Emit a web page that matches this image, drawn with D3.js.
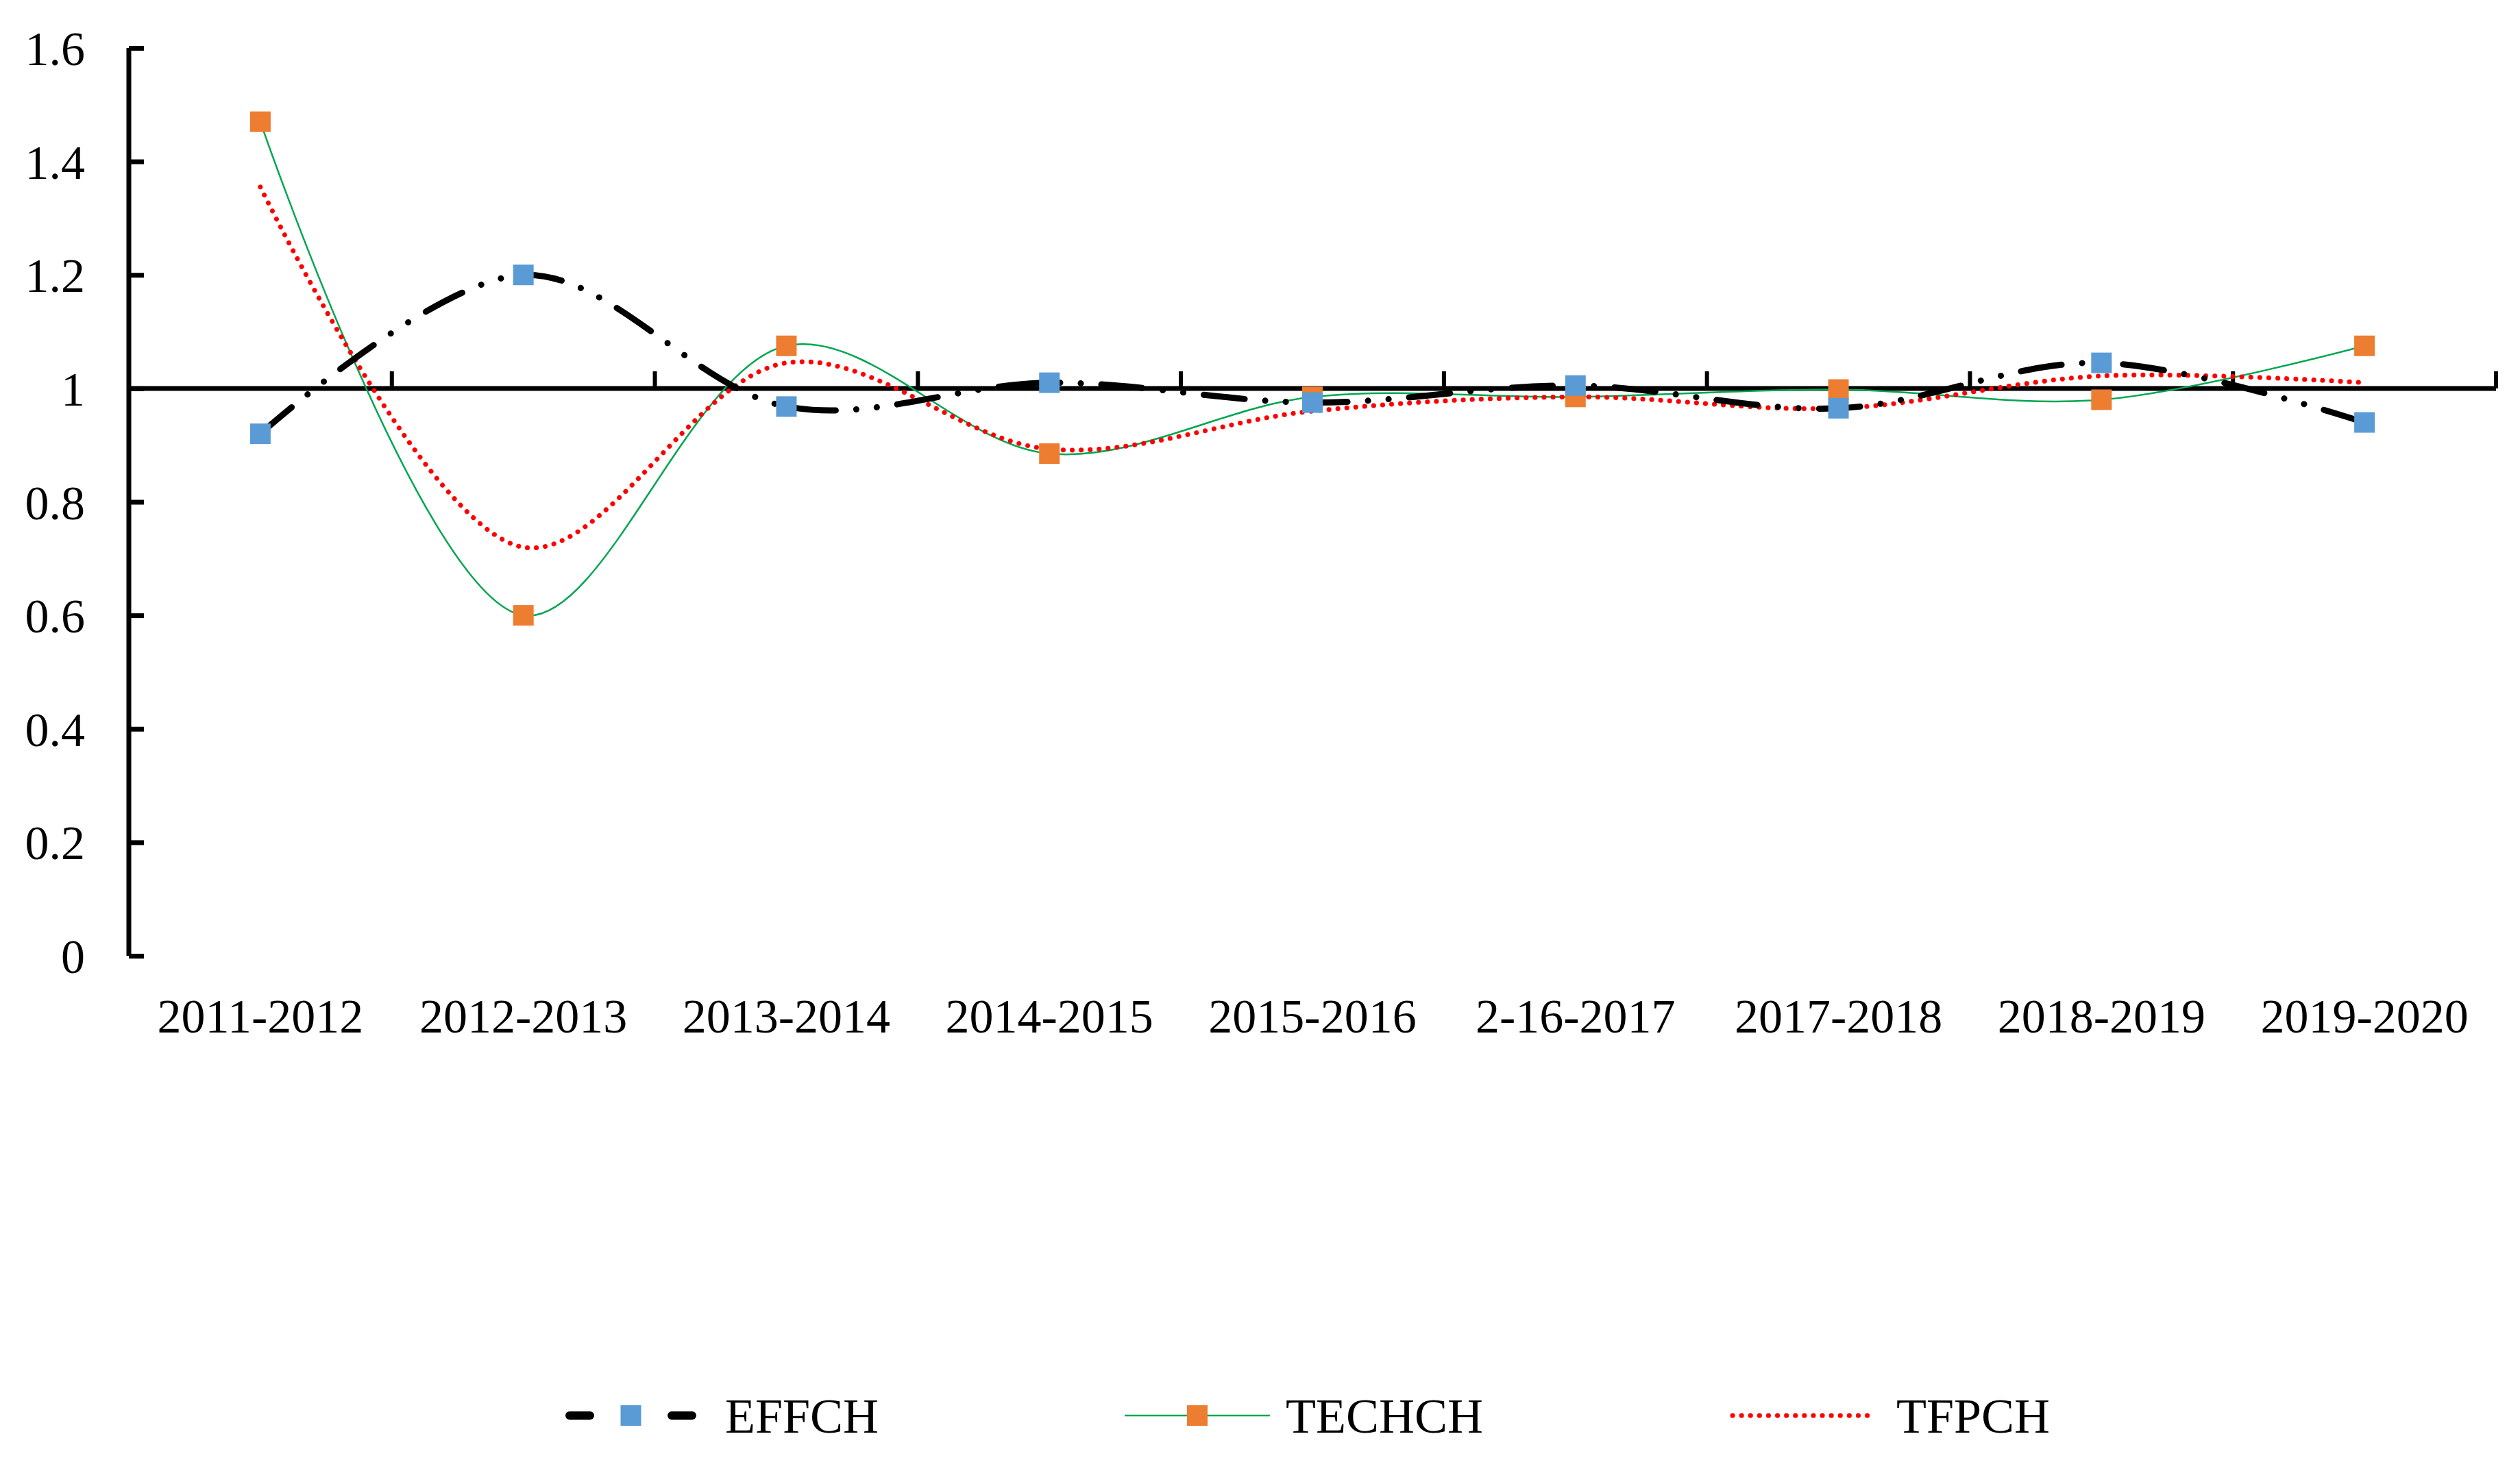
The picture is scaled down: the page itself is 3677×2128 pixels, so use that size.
<!DOCTYPE html><html><head><meta charset="utf-8"><script src="https://cdn.jsdelivr.net/npm/d3@7"></script>
<style>body{margin:0;background:#fff}text{font-family:"Liberation Serif","Times New Roman",serif}</style></head><body>
<script>
const categories=["2011-2012","2012-2013","2013-2014","2014-2015","2015-2016","2-16-2017","2017-2018","2018-2019","2019-2020"];
const effch=[0.92,1.2,0.968,1.01,0.975,1.005,0.965,1.045,0.94];
const techch=[1.47,0.60,1.075,0.885,0.985,0.985,0.998,0.98,1.075];
const tfpch=[1.355,0.72,1.045,0.893,0.96,0.985,0.965,1.022,1.01];
const yTicks=[0,0.2,0.4,0.6,0.8,1,1.2,1.4,1.6];
const W=3677,H=2128;
const svg=d3.select("body").append("svg").attr("width",W).attr("height",H);
const x=d3.scaleBand().domain(categories).range([188,3642]);
const y=d3.scaleLinear().domain([0,1.6]).range([1395,70]);
const cx=c=>x(c)+x.bandwidth()/2;
const ya=svg.append("g").attr("transform","translate(188,0)").call(d3.axisLeft(y).tickValues(yTicks).tickSize(-22).tickPadding(0).tickFormat(d3.format("")));
ya.select(".domain").attr("stroke-width",7).attr("d",`M0,${y(0)}V${y(1.6)}`);
ya.selectAll(".tick line").attr("stroke-width",7);
ya.selectAll(".tick text").attr("x",-64).attr("font-size",70).attr("fill","#000").attr("dy","0.35em");
const xa=svg.append("g").attr("transform",`translate(0,${y(1)})`);
xa.append("line").attr("x1",188).attr("x2",3642).attr("stroke","#000").attr("stroke-width",7);
const bounds=categories.map(c=>x(c)+x.bandwidth());
xa.selectAll("line.t").data(bounds).join("line").attr("class","t").attr("x1",d=>d).attr("x2",d=>d).attr("y1",0).attr("y2",-25).attr("stroke","#000").attr("stroke-width",6);
svg.selectAll("text.cat").data(categories).join("text").attr("class","cat").attr("x",cx).attr("y",1482).attr("dy","0.35em").attr("text-anchor","middle").attr("font-size",70).text(d=>d);
const line=d3.line().x((d,i)=>cx(categories[i])).y(d=>y(d)).curve(d3.curveCatmullRom.alpha(0.5));
const series=[
 {name:"TECHCH",v:techch,stroke:"#00a650",w:2.5,dash:null,cap:"butt",m:"#ed7d31"},
 {name:"TFPCH",v:tfpch,stroke:"#ff0000",w:7,dash:"0.1,13",cap:"round",m:null},
 {name:"EFFCH",v:effch,stroke:"#000",w:9,dash:"60,30,0.1,30,0.1,30",cap:"round",m:"#5b9bd5"}];
series.forEach(s=>{
 svg.append("path").attr("d",line(s.v)).attr("fill","none").attr("stroke",s.stroke).attr("stroke-width",s.w).attr("stroke-dasharray",s.dash).attr("stroke-linecap",s.cap);
});
series.forEach(s=>{ if(s.m) svg.selectAll(null).data(s.v).join("rect").attr("x",(d,i)=>cx(categories[i])-15).attr("y",d=>y(d)-15).attr("width",30).attr("height",30).attr("fill",s.m);});
const leg=[{s:series[2],x1:821,x2:1020,tx:1058},{s:series[0],x1:1641,x2:1853,tx:1876},{s:series[1],x1:2528,x2:2732,tx:2767}];
const ly=2066;
leg.forEach(l=>{
 const s=l.s;
 if(s.name==="EFFCH"){
  svg.append("line").attr("x1",l.x1+10).attr("x2",l.x1+40).attr("y1",ly).attr("y2",ly).attr("stroke","#000").attr("stroke-width",12).attr("stroke-linecap","round");
  svg.append("line").attr("x1",l.x2-40).attr("x2",l.x2-10).attr("y1",ly).attr("y2",ly).attr("stroke","#000").attr("stroke-width",12).attr("stroke-linecap","round");
 } else {
  svg.append("line").attr("x1",l.x1).attr("x2",l.x2).attr("y1",ly).attr("y2",ly).attr("stroke",s.stroke).attr("stroke-width",s.w).attr("stroke-dasharray",s.dash).attr("stroke-linecap",s.cap);
 }
 if(s.m) svg.append("rect").attr("x",(l.x1+l.x2)/2-15).attr("y",ly-15).attr("width",30).attr("height",30).attr("fill",s.m);
 svg.append("text").attr("x",l.tx).attr("y",ly).attr("dy","0.35em").attr("font-size",72).text(s.name);
});
</script></body></html>
